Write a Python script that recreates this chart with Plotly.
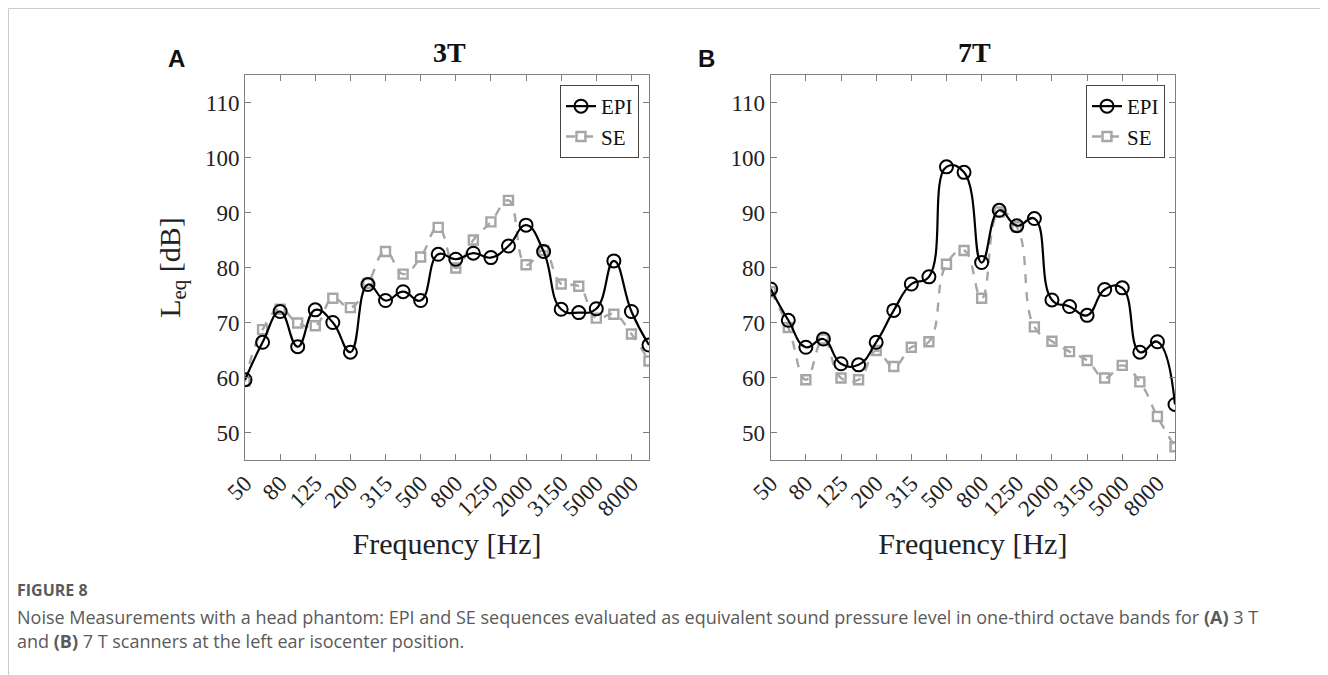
import plotly.graph_objects as go

bands = ["50", "63", "80", "100", "125", "160", "200", "250", "315", "400", "500", "630",
         "800", "1000", "1250", "1600", "2000", "2500", "3150", "4000", "5000", "6300", "8000", "10000"]
tick_bands = bands[::2]

epi_3t = [59.6, 66.4, 72.0, 65.6, 72.3, 70.0, 64.6, 76.9, 74.0, 75.6, 74.0, 82.4,
          81.5, 82.6, 81.8, 83.9, 87.7, 82.9, 72.4, 71.8, 72.5, 81.2, 72.0, 65.9]
se_3t = [59.3, 68.7, 72.4, 69.9, 69.4, 74.4, 72.7, 77.1, 82.9, 78.8, 81.9, 87.3,
         79.9, 85.0, 88.3, 92.2, 80.5, 83.1, 77.0, 76.6, 70.8, 71.5, 67.9, 63.0]
epi_7t = [76.1, 70.4, 65.5, 67.0, 62.5, 62.3, 66.4, 72.2, 77.0, 78.3, 98.3, 97.3,
          80.9, 90.4, 87.6, 88.9, 74.1, 72.9, 71.3, 76.0, 76.3, 64.6, 66.5, 55.1]
se_7t = [75.6, 69.1, 59.6, 67.0, 59.9, 59.6, 64.9, 62.0, 65.5, 66.5, 80.6, 83.1,
         74.4, 90.1, 87.4, 69.2, 66.6, 64.7, 63.1, 59.9, 62.2, 59.2, 52.9, 47.4]

W, H = 1328, 675
OFF = 8  # page body margin shifts the figure on screen


def px(sx):
    return (sx - OFF) / W


def py(sy):
    return 1 - (sy - OFF) / H


fig = go.Figure()

EPI_COLOR = "#000000"
SE_COLOR = "#a6a6a6"
SERIF = "Liberation Serif"
TXT = "#222222"


def add_pair(epi, se, xa, ya, legend):
    fig.add_trace(go.Scatter(
        x=bands, y=se, name="SE", xaxis=xa, yaxis=ya, legend=legend,
        mode="lines+markers",
        line=dict(color=SE_COLOR, width=2.4, dash="dash", shape="spline", smoothing=1.3),
        marker=dict(symbol="square-open", size=9, color=SE_COLOR, line=dict(width=2.4)),
    ))
    fig.add_trace(go.Scatter(
        x=bands, y=epi, name="EPI", xaxis=xa, yaxis=ya, legend=legend,
        mode="lines+markers",
        line=dict(color=EPI_COLOR, width=2.2, shape="spline", smoothing=1.3),
        marker=dict(symbol="circle-open", size=13, color=EPI_COLOR, line=dict(width=2)),
    ))


add_pair(epi_3t, se_3t, "x", "y", "legend")
add_pair(epi_7t, se_7t, "x2", "y2", "legend2")

ytop = py(75)
ybot = py(460)
dA = [px(245), px(649)]
dB = [px(770.7), px(1175)]

axis_common = dict(
    showline=True, linecolor="#7f7f7f", linewidth=1, mirror="ticks",
    ticks="inside", ticklen=6, tickcolor="#7f7f7f", showgrid=False, zeroline=False,
    tickfont=dict(family=SERIF, size=23, color=TXT), automargin=False,
)

xcommon = dict(axis_common, type="category", range=[0, 23], tickmode="array",
               tickvals=tick_bands, ticktext=tick_bands, tickangle=-45,
               title=dict(text="Frequency [Hz]", font=dict(family=SERIF, size=30, color=TXT),
                          standoff=12))
ycommon = dict(axis_common, range=[45, 115], tickvals=[50, 60, 70, 80, 90, 100, 110])

legend_common = dict(yanchor="top", xanchor="right", y=py(85),
                     bordercolor="#444444", borderwidth=1, bgcolor="white",
                     font=dict(family=SERIF, size=21, color="#111111"), traceorder="reversed",
                     tracegroupgap=0, itemwidth=30)

fig.update_layout(
    width=W, height=H,
    margin=dict(l=0, r=0, t=0, b=0, autoexpand=False),
    paper_bgcolor="white", plot_bgcolor="white",
    xaxis=dict(xcommon, domain=dA, anchor="y"),
    yaxis=dict(ycommon, domain=[ybot, ytop], anchor="x",
               title=dict(text="L<sub>eq</sub> [dB]", font=dict(family=SERIF, size=30, color=TXT),
                          standoff=15)),
    xaxis2=dict(xcommon, domain=dB, anchor="y2"),
    yaxis2=dict(ycommon, domain=[ybot, ytop], anchor="x2"),
    legend=dict(legend_common, x=px(639)),
    legend2=dict(legend_common, x=px(1165)),
    showlegend=True,
)

CAP = "Open Sans"
CAPC = "#5a5a5a"
annos = [
    dict(x=px(449), y=py(53), text="<b>3T</b>", font=dict(family=SERIF, size=28, color="#111111")),
    dict(x=px(975), y=py(53), text="<b>7T</b>", font=dict(family=SERIF, size=28, color="#111111")),
    dict(x=px(176), y=py(58), text="<b>A</b>", font=dict(family="Liberation Sans", size=24, color="#111111")),
    dict(x=px(706), y=py(58), text="<b>B</b>", font=dict(family="Liberation Sans", size=24, color="#111111")),
    dict(x=px(15), y=py(590), xanchor="left", text="<b>FIGURE 8</b>",
         font=dict(family=CAP, size=16, color=CAPC)),
    dict(x=px(15), y=py(617), xanchor="left",
         text="Noise Measurements with a head phantom: EPI and SE sequences evaluated as equivalent sound pressure level in one-third octave bands for <b>(A)</b> 3 T",
         font=dict(family=CAP, size=18, color=CAPC)),
    dict(x=px(15), y=py(641), xanchor="left",
         text="and <b>(B)</b> 7 T scanners at the left ear isocenter position.",
         font=dict(family=CAP, size=18, color=CAPC)),
]
for a in annos:
    a.setdefault("xanchor", "center")
    fig.add_annotation(xref="paper", yref="paper", yanchor="middle", showarrow=False, **a)

fig.add_shape(type="line", xref="paper", yref="paper", x0=0.5 / W, x1=1, y0=1 - 0.5 / H, y1=1 - 0.5 / H,
              line=dict(color="#cccccc", width=1))
fig.add_shape(type="line", xref="paper", yref="paper", x0=0.5 / W, x1=0.5 / W, y0=0, y1=1 - 0.5 / H,
              line=dict(color="#cccccc", width=1))

fig.write_html("out.html")
